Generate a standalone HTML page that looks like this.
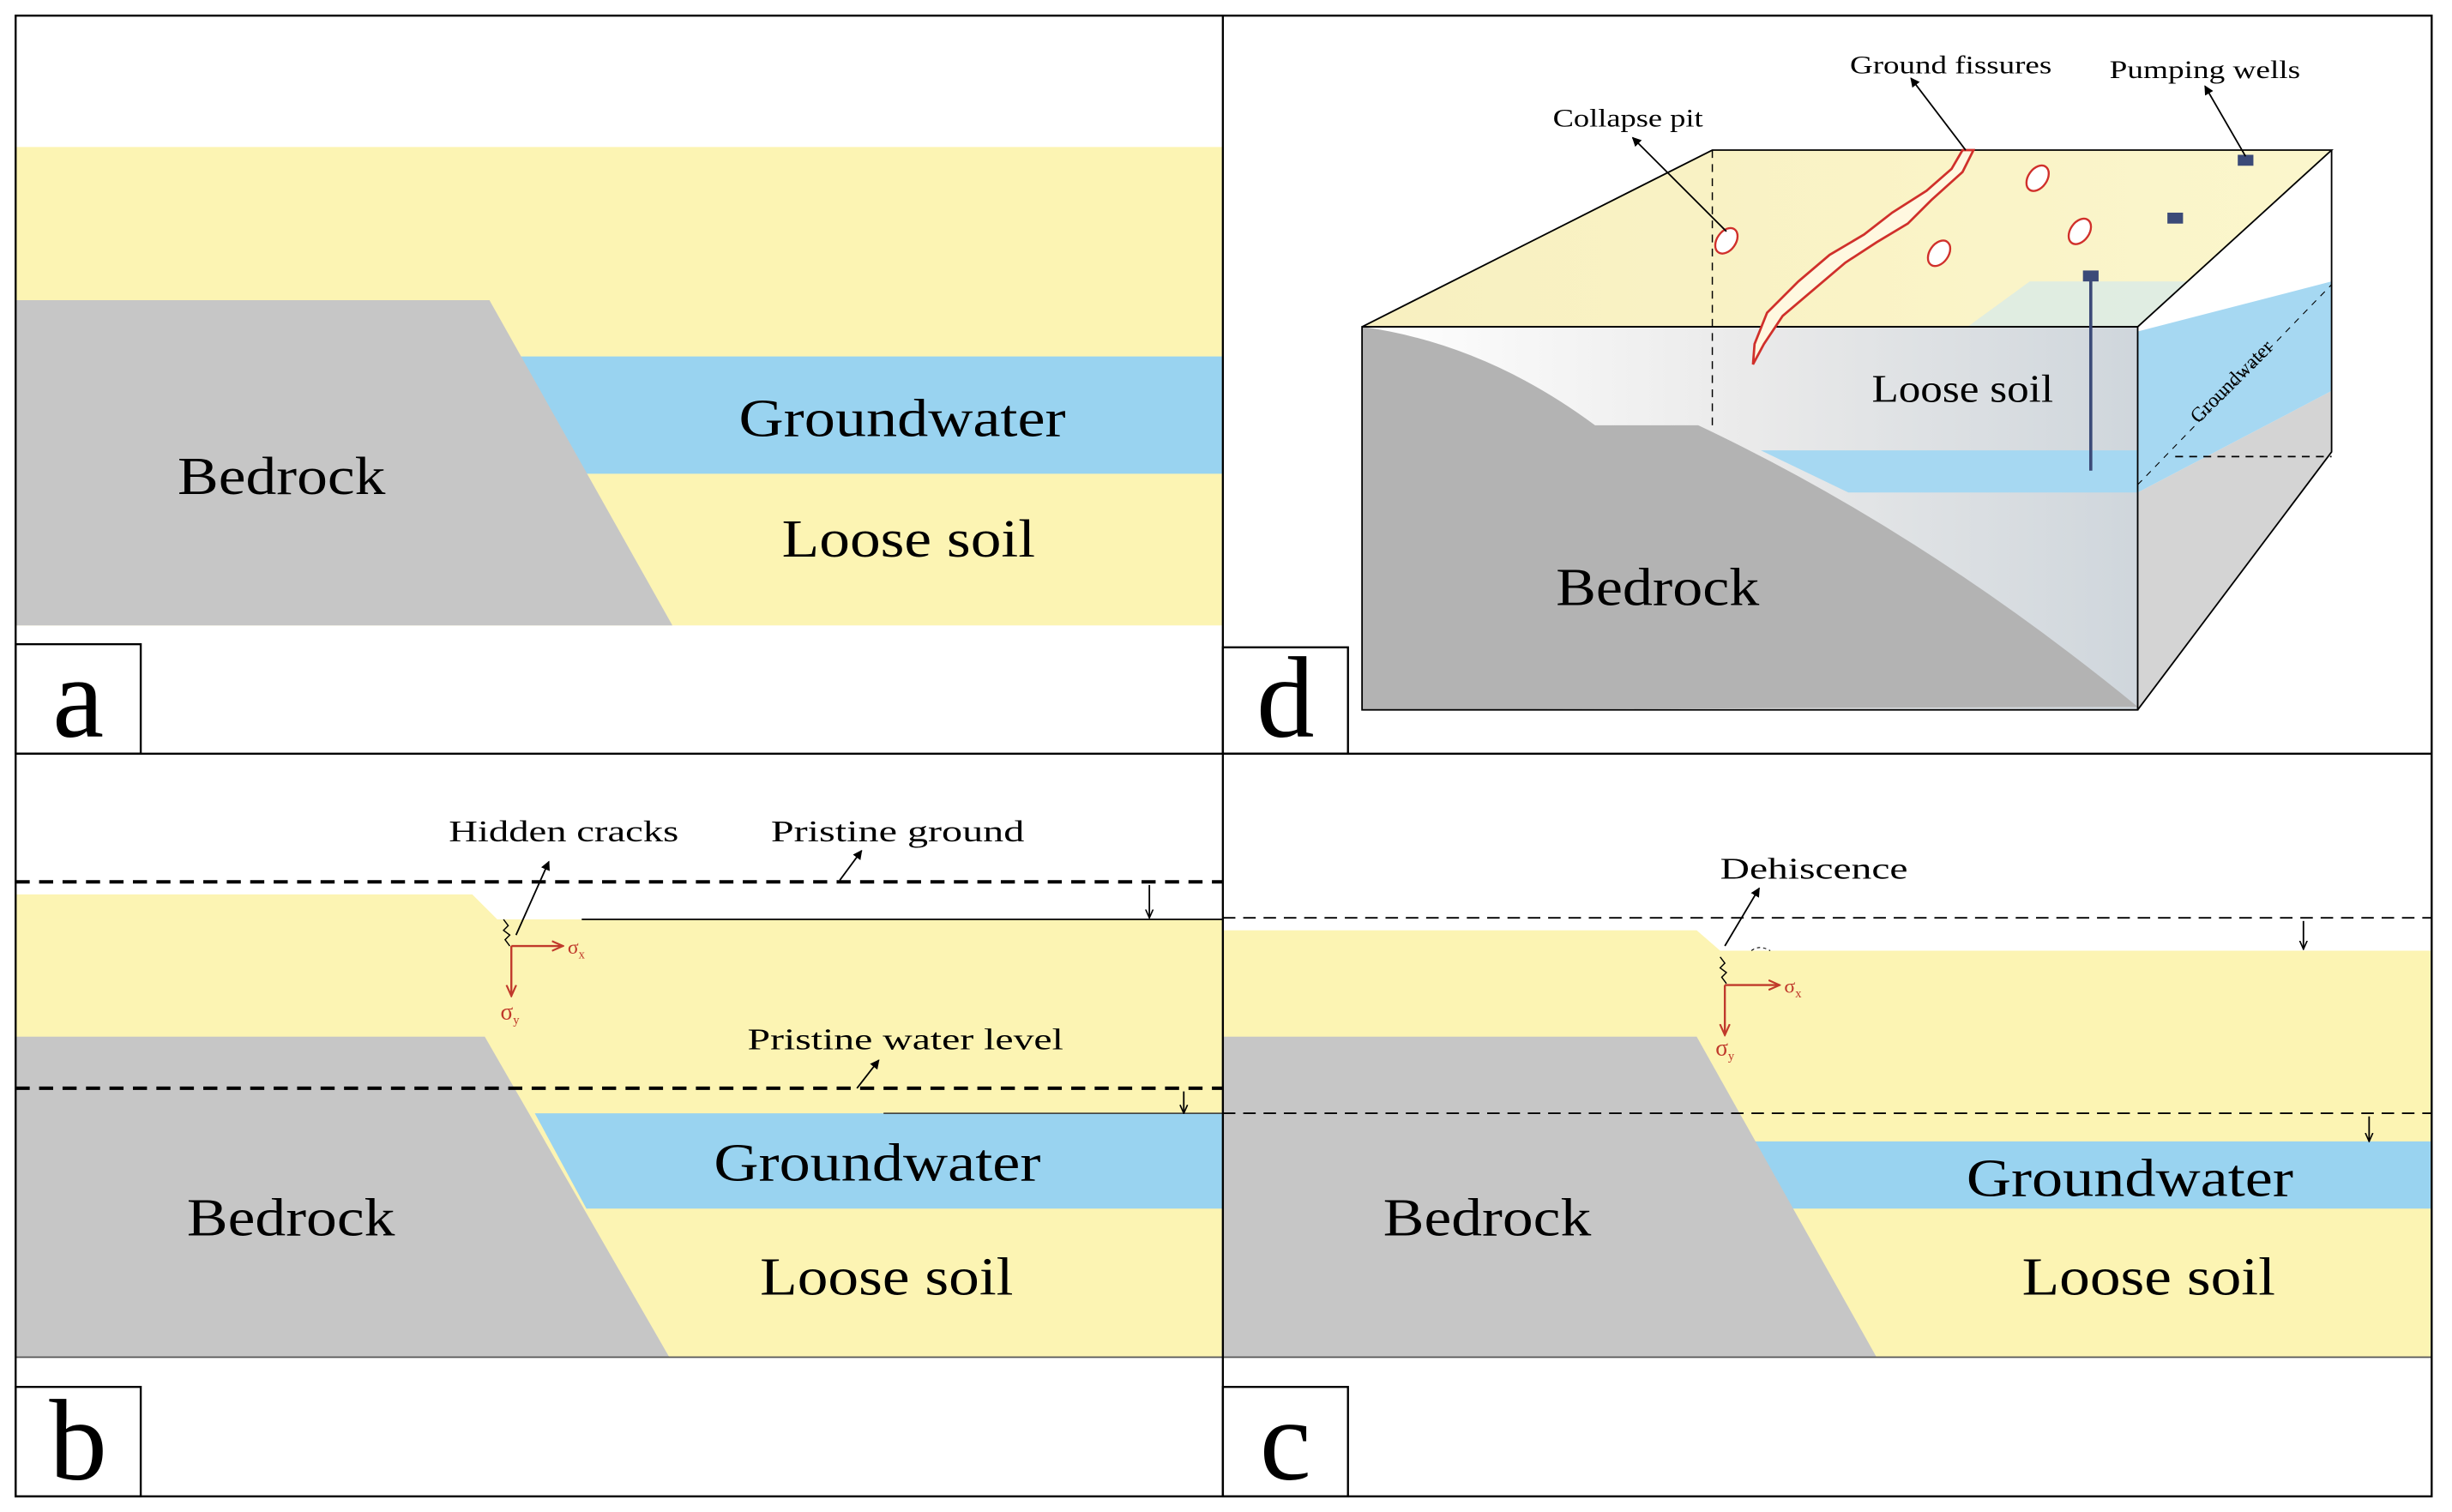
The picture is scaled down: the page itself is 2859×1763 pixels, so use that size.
<!DOCTYPE html>
<html><head><meta charset="utf-8"><style>html,body{margin:0;padding:0;background:#fff}svg{display:block}</style></head><body>
<svg width="2859" height="1763" viewBox="0 0 1568 967" preserveAspectRatio="none" xmlns="http://www.w3.org/2000/svg" font-family="Liberation Serif, serif">
<defs>
<marker id="ar" viewBox="0 0 10 10" refX="9" refY="5" markerWidth="6" markerHeight="6" orient="auto"><path d="M0,0 L10,5 L0,10 z" fill="#000"/></marker>
<marker id="ra" viewBox="0 0 10 10" refX="9" refY="5" markerWidth="6" markerHeight="6" orient="auto"><path d="M0,1 L9,5 L0,9" fill="none" stroke="#c0392b" stroke-width="1.5"/></marker>
<marker id="da" viewBox="0 0 10 10" refX="9" refY="5" markerWidth="6" markerHeight="6" orient="auto"><path d="M0,1 L9,5 L0,9" fill="none" stroke="#000" stroke-width="1.5"/></marker>
<linearGradient id="top" x1="0" y1="0" x2="1" y2="0"><stop offset="0" stop-color="#f8f0c0"/><stop offset="1" stop-color="#fbf6cc"/></linearGradient>
<linearGradient id="front" x1="0" y1="0" x2="1" y2="0"><stop offset="0" stop-color="#ffffff"/><stop offset="0.5" stop-color="#eaeaea"/><stop offset="1" stop-color="#cfd6dc"/></linearGradient>
</defs>
<!-- Panel a -->
<rect x="10" y="94" width="772" height="306" fill="#fcf4b3"/>
<polygon points="333,228 782,228 782,303 375,303" fill="#99d3f0"/>
<polygon points="10,192 313,192 430,400 10,400" fill="#c6c6c6"/>
<text x="577" y="279" font-size="34" text-anchor="middle" textLength="209" lengthAdjust="spacingAndGlyphs">Groundwater</text>
<text x="180" y="316" font-size="34" text-anchor="middle" textLength="133" lengthAdjust="spacingAndGlyphs">Bedrock</text>
<text x="581" y="356" font-size="34" text-anchor="middle" textLength="162" lengthAdjust="spacingAndGlyphs">Loose soil</text>
<rect x="10" y="412" width="80" height="70" fill="#fff" stroke="#000" stroke-width="1.3"/>
<text x="50" y="471" font-size="74" text-anchor="middle">a</text>

<!-- Panel b -->
<rect x="10" y="588" width="772" height="280" fill="#fcf4b3"/>
<polygon points="10,572 302,572 318,588 10,588" fill="#fcf4b3"/>
<polygon points="342,712 782,712 782,773 375,773" fill="#99d3f0"/>
<polygon points="10,663 310,663 428,868 10,868" fill="#c6c6c6"/>
<line x1="10" y1="868" x2="782" y2="868" stroke="#555" stroke-width="1"/>
<line x1="10" y1="564" x2="782" y2="564" stroke="#000" stroke-width="2.2" stroke-dasharray="9,6"/>
<line x1="10" y1="696" x2="782" y2="696" stroke="#000" stroke-width="2.2" stroke-dasharray="9,6"/>
<line x1="372" y1="588" x2="782" y2="588" stroke="#000" stroke-width="1"/>
<line x1="565" y1="712" x2="782" y2="712" stroke="#333" stroke-width="0.8"/>
<line x1="735" y1="566" x2="735" y2="587" stroke="#000" stroke-width="1" marker-end="url(#da)"/>
<line x1="757" y1="698" x2="757" y2="712" stroke="#000" stroke-width="1" marker-end="url(#da)"/>
<path d="M322,588 l3,4 -3,3 4,3 -3,3 3,4" fill="none" stroke="#000" stroke-width="0.8"/>
<line x1="330" y1="598" x2="351" y2="551" stroke="#000" stroke-width="1" marker-end="url(#ar)"/>
<line x1="537" y1="563" x2="551" y2="544" stroke="#000" stroke-width="1" marker-end="url(#ar)"/>
<line x1="548" y1="696" x2="562" y2="678" stroke="#000" stroke-width="1" marker-end="url(#ar)"/>
<text x="287" y="538" font-size="19" textLength="147" lengthAdjust="spacingAndGlyphs">Hidden cracks</text>
<text x="493" y="538" font-size="19" textLength="162" lengthAdjust="spacingAndGlyphs">Pristine ground</text>
<text x="478" y="671" font-size="19" textLength="202" lengthAdjust="spacingAndGlyphs">Pristine water level</text>
<line x1="327" y1="605" x2="360" y2="605" stroke="#c0392b" stroke-width="1.3" marker-end="url(#ra)"/>
<line x1="327" y1="605" x2="327" y2="637" stroke="#c0392b" stroke-width="1.3" marker-end="url(#ra)"/>
<text x="363" y="610" font-size="13" fill="#c0392b">σ<tspan font-size="8" dy="3">x</tspan></text>
<text x="320" y="652" font-size="15" fill="#c0392b">σ<tspan font-size="8" dy="3">y</tspan></text>
<text x="561" y="755" font-size="34" text-anchor="middle" textLength="209" lengthAdjust="spacingAndGlyphs">Groundwater</text>
<text x="186" y="790" font-size="34" text-anchor="middle" textLength="133" lengthAdjust="spacingAndGlyphs">Bedrock</text>
<text x="567" y="828" font-size="34" text-anchor="middle" textLength="162" lengthAdjust="spacingAndGlyphs">Loose soil</text>
<rect x="10" y="887" width="80" height="70" fill="#fff" stroke="#000" stroke-width="1.3"/>
<text x="50" y="946" font-size="74" text-anchor="middle">b</text>

<!-- Panel c -->
<rect x="782" y="608" width="773" height="260" fill="#fcf4b3"/>
<polygon points="782,595 1085,595 1100,608 782,608" fill="#fcf4b3"/>
<polygon points="1115,730 1555,730 1555,773 1140,773" fill="#99d3f0"/>
<polygon points="782,663 1085,663 1200,868 782,868" fill="#c6c6c6"/>
<line x1="782" y1="868" x2="1555" y2="868" stroke="#555" stroke-width="1"/>
<line x1="782" y1="587" x2="1555" y2="587" stroke="#000" stroke-width="1" stroke-dasharray="8,5"/>
<line x1="782" y1="712" x2="1555" y2="712" stroke="#000" stroke-width="1" stroke-dasharray="8,5"/>
<path d="M1120,608 q5,-4 12,0" fill="none" stroke="#000" stroke-width="0.6" stroke-dasharray="2,2"/>
<line x1="1473" y1="589" x2="1473" y2="607" stroke="#000" stroke-width="1" marker-end="url(#da)"/>
<line x1="1515" y1="714" x2="1515" y2="730" stroke="#000" stroke-width="1" marker-end="url(#da)"/>
<path d="M1100,612 l3,4 -3,3 4,3 -3,3 3,4" fill="none" stroke="#000" stroke-width="0.8"/>
<line x1="1103" y1="605" x2="1125" y2="568" stroke="#000" stroke-width="1" marker-end="url(#ar)"/>
<text x="1100" y="562" font-size="19" textLength="120" lengthAdjust="spacingAndGlyphs">Dehiscence</text>
<line x1="1103" y1="630" x2="1138" y2="630" stroke="#c0392b" stroke-width="1.3" marker-end="url(#ra)"/>
<line x1="1103" y1="630" x2="1103" y2="662" stroke="#c0392b" stroke-width="1.3" marker-end="url(#ra)"/>
<text x="1141" y="635" font-size="13" fill="#c0392b">σ<tspan font-size="8" dy="3">x</tspan></text>
<text x="1097" y="675" font-size="15" fill="#c0392b">σ<tspan font-size="8" dy="3">y</tspan></text>
<text x="1362" y="765" font-size="34" text-anchor="middle" textLength="209" lengthAdjust="spacingAndGlyphs">Groundwater</text>
<text x="951" y="790" font-size="34" text-anchor="middle" textLength="133" lengthAdjust="spacingAndGlyphs">Bedrock</text>
<text x="1374" y="828" font-size="34" text-anchor="middle" textLength="162" lengthAdjust="spacingAndGlyphs">Loose soil</text>
<rect x="782" y="887" width="80" height="70" fill="#fff" stroke="#000" stroke-width="1.3"/>
<text x="822" y="946" font-size="74" text-anchor="middle">c</text>

<!-- Panel d -->
<polygon points="871,209 1095,96 1491,96 1367,209" fill="url(#top)"/>
<polygon points="1298,180 1491,180 1367,215 1250,215" fill="#cfe8f2" opacity="0.6"/>
<polygon points="871,209 1367,209 1367,454 871,454" fill="url(#front)"/>
<polygon points="1367,209 1491,96 1491,289 1367,454" fill="#ffffff"/>
<polygon points="1367,315 1491,250 1491,289 1367,454" fill="#d4d4d4"/>
<polygon points="1367,212 1491,180 1491,250 1367,315" fill="#a6d8f2"/>
<polygon points="1126,288 1367,288 1367,315 1182,315" fill="#a6d8f2"/>
<path d="M871,209 Q950,220 1020,272 L1086,272 Q1230,340 1367,452 L871,454 Z" fill="#b3b3b3"/>
<polygon points="871,209 1095,96 1491,96 1367,209" fill="none" stroke="#000" stroke-width="1"/>
<rect x="871" y="209" width="496" height="245" fill="none" stroke="#000" stroke-width="1"/>
<polyline points="1367,454 1491,289 1491,96" fill="none" stroke="#000" stroke-width="1"/>
<line x1="1095" y1="96" x2="1095" y2="272" stroke="#000" stroke-width="0.8" stroke-dasharray="5,4"/>
<line x1="1391" y1="292" x2="1491" y2="292" stroke="#000" stroke-width="1" stroke-dasharray="5,4"/>
<line x1="1367" y1="310" x2="1491" y2="182" stroke="#000" stroke-width="0.6" stroke-dasharray="4,4"/>
<path d="M1255,96 L1262,96 L1255,110 L1235,128 L1220,143 L1200,155 L1180,168 L1160,185 L1140,202 L1128,220 L1121,233 L1122,220 L1130,200 L1150,180 L1170,163 L1192,150 L1210,136 L1232,122 L1248,108 Z" fill="#fff8e0" stroke="#d0302b" stroke-width="1.5"/>
<g fill="#fff" stroke="#d0302b" stroke-width="1.3">
<ellipse cx="1104" cy="154" rx="6" ry="9" transform="rotate(35 1104 154)"/>
<ellipse cx="1303" cy="114" rx="6" ry="9" transform="rotate(35 1303 114)"/>
<ellipse cx="1330" cy="148" rx="6" ry="9" transform="rotate(35 1330 148)"/>
<ellipse cx="1240" cy="162" rx="6" ry="9" transform="rotate(35 1240 162)"/>
</g>
<rect x="1431" y="99" width="10" height="7" fill="#3b4a78"/>
<rect x="1386" y="136" width="10" height="7" fill="#3b4a78"/>
<rect x="1332" y="173" width="10" height="7" fill="#3b4a78"/>
<line x1="1337" y1="178" x2="1337" y2="301" stroke="#3b4a78" stroke-width="2"/>
<line x1="1104" y1="148" x2="1044" y2="88" stroke="#000" stroke-width="1" marker-end="url(#ar)"/>
<line x1="1257" y1="96" x2="1222" y2="50" stroke="#000" stroke-width="1" marker-end="url(#ar)"/>
<line x1="1436" y1="100" x2="1410" y2="55" stroke="#000" stroke-width="1" marker-end="url(#ar)"/>
<text x="993" y="81" font-size="16" textLength="96" lengthAdjust="spacingAndGlyphs">Collapse pit</text>
<text x="1183" y="47" font-size="16" textLength="129" lengthAdjust="spacingAndGlyphs">Ground fissures</text>
<text x="1349" y="50" font-size="16" textLength="122" lengthAdjust="spacingAndGlyphs">Pumping wells</text>
<text x="1197" y="257" font-size="25" textLength="116" lengthAdjust="spacingAndGlyphs">Loose soil</text>
<text x="995" y="387" font-size="34" textLength="130" lengthAdjust="spacingAndGlyphs">Bedrock</text>
<text x="1430" y="247" font-size="13" text-anchor="middle" transform="rotate(-45 1430 247)">Groundwater</text>
<rect x="782" y="414" width="80" height="68" fill="#fff" stroke="#000" stroke-width="1.3"/>
<text x="822" y="471" font-size="74" text-anchor="middle">d</text>

<!-- Frames -->
<rect x="10" y="10" width="1545" height="947" fill="none" stroke="#000" stroke-width="1.3"/>
<line x1="782" y1="10" x2="782" y2="957" stroke="#000" stroke-width="1.3"/>
<line x1="10" y1="482" x2="1555" y2="482" stroke="#000" stroke-width="1.3"/>
</svg>
</body></html>
